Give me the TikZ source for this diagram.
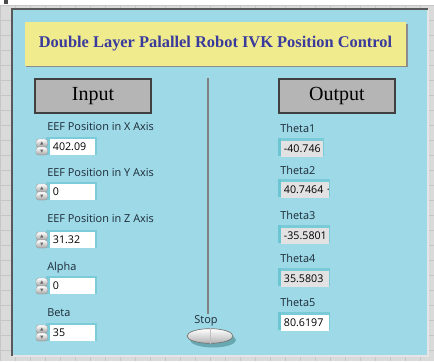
\documentclass[tikz,border=0pt]{standalone}
\usepackage{fontspec}
\setmainfont{Liberation Serif}
\newfontfamily\lblfont{Open Sans}
\usetikzlibrary{shapes.geometric}
\definecolor{bggray}{HTML}{DADADA}
\definecolor{gridcol}{HTML}{C6C6C6}
\definecolor{panelcol}{HTML}{9ED9E7}
\definecolor{titlecol}{HTML}{F0EC8E}
\definecolor{titletext}{HTML}{3A3A9C}
\definecolor{headgray}{HTML}{B5B5B5}
\definecolor{tealframe}{HTML}{6CC6D2}
\definecolor{outgray}{HTML}{E2E2E2}
\definecolor{labelcol}{HTML}{1C2A36}
\begin{document}
\begin{tikzpicture}[x=0.75pt,y=-0.75pt,
  lbl/.style={font=\lblfont\fontsize{8.2}{9.6}\selectfont, text=labelcol, anchor=west, inner sep=0pt},
  inbox/.style={fill=white, anchor=west, inner xsep=2pt, inner ysep=0pt, minimum height=12pt,
     text width=29.75pt, align=left, font=\lblfont\fontsize{8}{9.4}\selectfont, text=black},
  outbox/.style={fill=outgray, anchor=west, inner xsep=2pt, inner ysep=0pt, minimum height=12.5pt,
     text width=#1, align=left, font=\lblfont\fontsize{8}{9.4}\selectfont, text=black},
  headbox/.style={fill=headgray, draw=black!75, line width=0.8pt, minimum width=87pt, minimum height=25.5pt,
     inner sep=0pt, font=\fontsize{15}{17}\selectfont},
]
\useasboundingbox (0,0) rectangle (434,361);
% background with grid
\fill[bggray] (0,0) rectangle (434,361);
\fill[white] (0,0) rectangle (434,5);
\foreach \i in {0,15,...,434} \draw[gridcol, line width=0.5pt] (\i,5) -- (\i,361);
\foreach \j in {5,20,...,361} \draw[gridcol, line width=0.5pt] (0,\j) -- (434,\j);
\fill[black!70] (4,0) rectangle (8,4);
% panel
\fill[panelcol] (12,9) rectangle (428,356);
\draw[white!90!black, line width=1.2pt] (428,9) -- (428,356) -- (12,356);
\draw[black!65, line width=1.3pt] (12,356) -- (12,9) -- (428,9);
% title
\fill[black!45] (26,24) rectangle (408,67);
\node[fill=titlecol, minimum width=286pt, minimum height=32.5pt, inner sep=0pt,
      text=titletext, font=\bfseries\fontsize{12.3}{14}\selectfont] (title) at (215.5,44)
      {Double Layer Palallel Robot IVK Position Control};
% headers
\node[headbox] (input) at (93,96) {Input};
\node[headbox] (output) at (337,96) {Output};
% inputs
\foreach \name/\lab/\val/\ly/\by in {ix/EEF Position in X Axis/402.09/127/147,
   iy/EEF Position in Y Axis/0/173/192,
   iz/EEF Position in Z Axis/31.32/219/240,
   ia/Alpha/0/268/286,
   ib/Beta/35/313/333}{
  \node[lbl] (\name l) at (47,\ly) {\lab};
  \fill[tealframe!70!panelcol] (46,\by-10) rectangle (97,\by+8);
  \node[inbox] (\name v) at (50,\by) {\val};
  % spinner
  \shade[top color=white, bottom color=black!35, draw=black!40, line width=0.3pt, rounded corners=2pt]
     (36,\by-8) rectangle (47.5,\by);
  \shade[top color=white, bottom color=black!35, draw=black!40, line width=0.3pt, rounded corners=2pt]
     (36,\by) rectangle (47.5,\by+8);
  \fill[black!60] (40.2,\by-2.5) -- (43.3,\by-2.5) -- (41.75,\by-5.5) -- cycle;
  \fill[black!60] (40.2,\by+2.5) -- (43.3,\by+2.5) -- (41.75,\by+5.5) -- cycle;
}
% outputs
\foreach \name/\lab/\val/\ly/\by/\w/\tw/\fc in {o1/Theta1/-40.746/128/149/42/27.5pt/outgray,
   o2/Theta2/40.7464 ·/170/190/48/32pt/outgray,
   o3/Theta3/-35.5801/215/236/48/32pt/outgray,
   o4/Theta4/35.5803/258/279/48/32pt/outgray,
   o5/Theta5/80.6197/302/323/48/32pt/white}{
  \node[lbl] (\name l) at (280,\ly) {\lab};
  \fill[tealframe!75!panelcol] (278,\by-11) rectangle (281+\w+1,\by+7);
  \fill[tealframe] (278,\by-11) rectangle (281,\by+7);
  \node[outbox=\tw, fill=\fc] (\name v) at (281,\by) {\mbox{\val}};
}
% divider and stop
\node[lbl, anchor=center] (stoplbl) at (206,321) {Stop};
\coordinate (divtop) at (208,78);
\draw[black!50, line width=1.5pt] (divtop) -- ([yshift=1pt]stoplbl.north -| divtop);
\fill[tealframe!80!black!90] (213,340) ellipse (23 and 7.5);
\node[ellipse, minimum width=34.5pt, minimum height=11pt, inner sep=0pt, draw=black!55, line width=0.5pt,
      top color=white, bottom color=black!30] (stop) at (210,336) {};
\draw[black!25, line width=0.4pt] (stop.north) -- (stop.south);
\end{tikzpicture}
\end{document}
